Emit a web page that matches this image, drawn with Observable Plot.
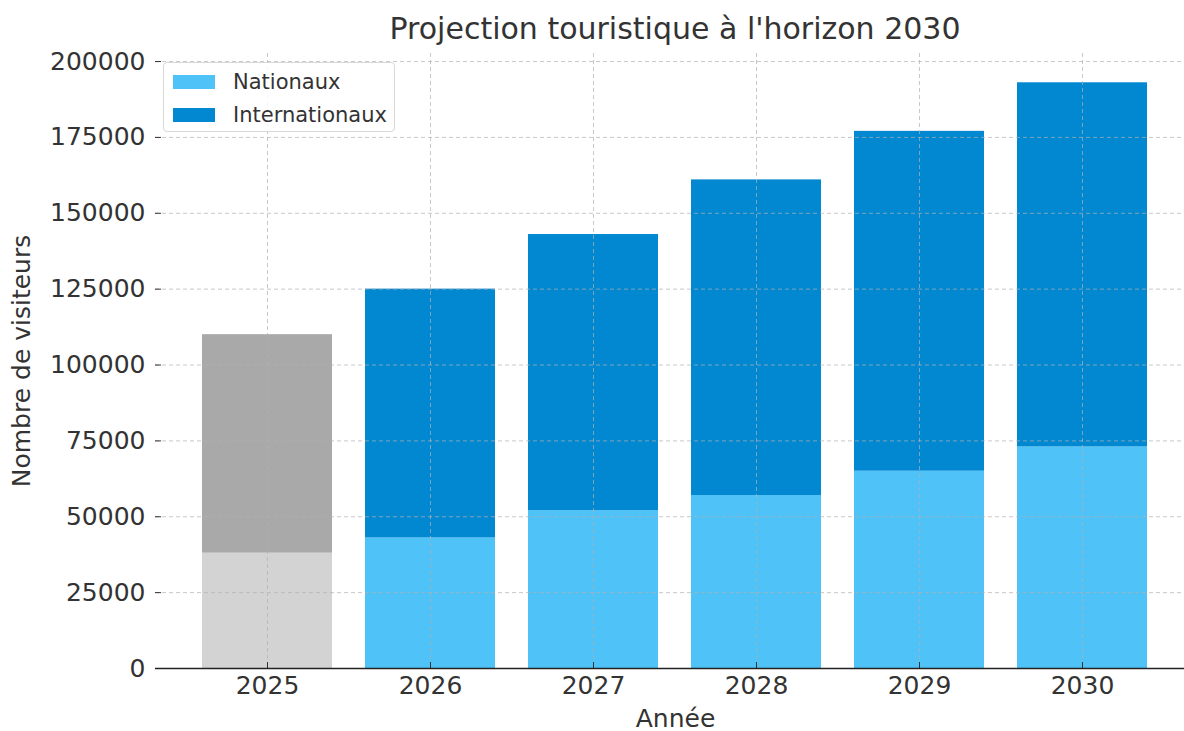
<!DOCTYPE html>
<html>
<head>
<meta charset="utf-8">
<script src="https://cdn.jsdelivr.net/npm/d3@7"></script>
<script src="https://cdn.jsdelivr.net/npm/@observablehq/plot@0.6"></script>
<style>
  html, body { margin: 0; padding: 0; background: #fff; overflow: hidden; }
  #wrap { position: relative; width: 1184px; height: 731px; font-family: "DejaVu Sans", sans-serif; }
  #title { position: absolute; left: 0; top: 0; width: 1350px; text-align: center; font-size: 30px; line-height: 30px; top: 14px; color: #333; z-index: 2; }
  #legend { position: absolute; left: 163px; top: 62px; width: 232px; height: 70px; box-sizing: border-box;
            border: 1px solid #d8d8d8; border-radius: 4px; background: rgba(255,255,255,0.85); z-index: 2; font-size: 21px; color: #333; }
  .item { position: absolute; left: 9px; height: 21px; display: flex; align-items: center; }
  .sw { width: 42px; height: 14px; margin-right: 18px; }
</style>
</head>
<body>
<div id="wrap">
  <div id="title">Projection touristique à l'horizon 2030</div>
  <div id="legend"></div>
  <div id="chart"></div>
</div>
<script>
const years = ["2025", "2026", "2027", "2028", "2029", "2030"];
const nationaux = [38000, 43000, 52000, 57000, 65000, 73000];
const internationaux = [72000, 82000, 91000, 104000, 112000, 120000];
const colorsNationaux = ["#d3d3d3", "#4fc3f7", "#4fc3f7", "#4fc3f7", "#4fc3f7", "#4fc3f7"];
const colorsInternationaux = ["#a9a9a9", "#0288d1", "#0288d1", "#0288d1", "#0288d1", "#0288d1"];
const yTicks = [0, 25000, 50000, 75000, 100000, 125000, 150000, 175000, 200000];
const legendItems = [["Nationaux", "#4fc3f7"], ["Internationaux", "#0288d1"]];

const rows = [];
years.forEach((y, i) => rows.push({year: y, type: "Nationaux", value: nationaux[i], color: colorsNationaux[i]}));
years.forEach((y, i) => rows.push({year: y, type: "Internationaux", value: internationaux[i], color: colorsInternationaux[i]}));

const yMax = d3.max(years.map((_, i) => nationaux[i] + internationaux[i])) * 1.05;

const chart = Plot.plot({
  width: 1184,
  height: 731,
  marginTop: 53,
  marginBottom: 63,
  marginLeft: 155,
  marginRight: -11,
  style: {fontFamily: "DejaVu Sans, sans-serif", fontSize: "25px", color: "#333", background: "white", overflow: "visible"},
  x: {domain: years, paddingInner: 0.2, paddingOuter: 0.29, label: null},
  y: {domain: [0, yMax], label: null},
  color: {type: "identity"},
  marks: [
    Plot.barY(rows, {x: "year", y: "value", z: "type", fill: "color"}),
    Plot.gridY(yTicks, {stroke: "#b0b0b0", strokeOpacity: 0.7, strokeDasharray: "4,3", strokeWidth: 1}),
    Plot.gridX(years, {stroke: "#b0b0b0", strokeOpacity: 0.7, strokeDasharray: "4,3", strokeWidth: 1}),
    Plot.axisY(yTicks, {tickSize: -6, tickPadding: 16, tickFormat: d => String(d), fontSize: 25,
      label: "Nombre de visiteurs", labelAnchor: "center", labelArrow: "none", labelOffset: 143}),
    Plot.axisX(years, {tickSize: -6, tickPadding: 14, fontSize: 25,
      label: "Année", labelAnchor: "center", labelArrow: "none", labelOffset: 58}),
    Plot.ruleX([0], {x: () => null, frameAnchor: "left", stroke: "#222", strokeWidth: 1.6}),
    Plot.ruleY([0], {stroke: "#222", strokeWidth: 1.6})
  ]
});
document.getElementById("chart").appendChild(chart);

const legend = document.getElementById("legend");
legendItems.forEach(([name, col], i) => {
  const it = document.createElement("div");
  it.className = "item";
  it.style.top = (8 + i * 33) + "px";
  const sw = document.createElement("div");
  sw.className = "sw";
  sw.style.background = col;
  const tx = document.createElement("span");
  tx.textContent = name;
  it.appendChild(sw); it.appendChild(tx);
  legend.appendChild(it);
});
</script>
</body>
</html>
